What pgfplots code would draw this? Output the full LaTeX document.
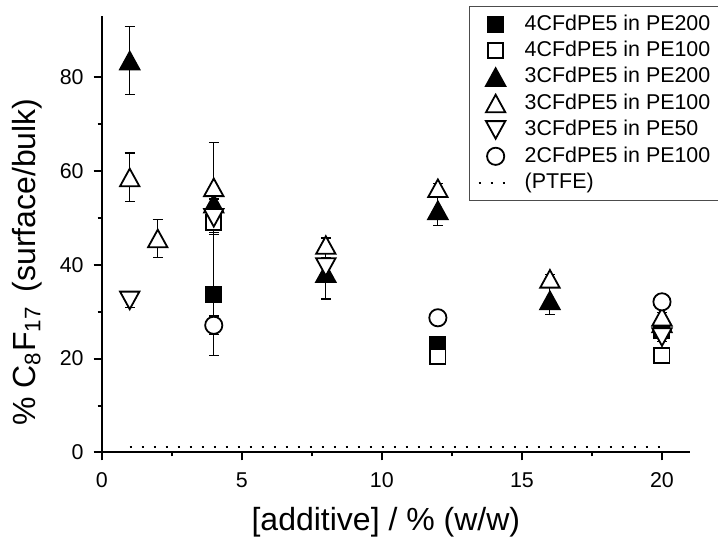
\documentclass[border=0pt]{standalone}
\usepackage{fontspec}
\setmainfont{Liberation Sans}
\usepackage{pgfplots}
\usepackage{pgfplotstable}
\pgfplotsset{compat=1.18}

% triangles centred on their bounding box (as Origin draws them)
\pgfdeclareplotmark{tu}{%
  \pgfpathmoveto{\pgfqpoint{0pt}{\pgfplotmarksize}}%
  \pgfpathlineto{\pgfqpoint{1.1\pgfplotmarksize}{-\pgfplotmarksize}}%
  \pgfpathlineto{\pgfqpoint{-1.1\pgfplotmarksize}{-\pgfplotmarksize}}%
  \pgfpathclose\pgfusepathqfillstroke}
\pgfdeclareplotmark{td}{%
  \pgfpathmoveto{\pgfqpoint{0pt}{-\pgfplotmarksize}}%
  \pgfpathlineto{\pgfqpoint{1.1\pgfplotmarksize}{\pgfplotmarksize}}%
  \pgfpathlineto{\pgfqpoint{-1.1\pgfplotmarksize}{\pgfplotmarksize}}%
  \pgfpathclose\pgfusepathqfillstroke}

% x = additive %(w/w), y = % C8F17, e = error
\pgfplotstableread{
x y e
4 33.6 12.9
12 22.9 1.0
20 25.9 1.0
}\fourTwoHundred
\pgfplotstableread{
x y e
4 49.0 2.5
12 20.4 1.0
20 20.7 1.0
}\fourHundred
\pgfplotstableread{
x y e
1 83.5 7.2
4 53.0 1.0
8 38.2 5.5
12 51.6 3.2
16 32.4 3.0
20 27.5 1.0
}\threeTwoHundred
\pgfplotstableread{
x y e
1 58.6 5.2
2 45.6 4.0
4 56.5 9.6
8 44.2 1.5
12 56.3 1.0
16 37.0 1.0
20 28.9 1.0
}\threeHundred
\pgfplotstableread{
x y e
1 32.4 1.5
4 50.0 1.0
8 39.5 2.0
20 24.6 1.0
}\threeFifty
\pgfplotstableread{
x y e
4 27.1 2.0
12 28.7 1.0
20 32.1 1.0
}\twoHundred

\pgfplotsset{
  ebar/.style={forget plot, draw=none, mark=none,
    error bars/.cd, y dir=both, y explicit,
    error bar style={draw=black, solid, line width=0.5pt},
    error mark options={draw=black, solid, rotate=90, mark size=2.5pt, line width=0.6pt}},
  pt/.style={only marks, line width=0.9pt, draw=black},
}

\begin{document}
\begin{tikzpicture}
\begin{axis}[
  scale only axis, width=294.15pt, height=218.25pt,
  xmin=0, xmax=21, ymin=0, ymax=93,
  axis x line*=bottom, axis y line*=left,
  axis line style={line width=1pt},
  xtick={0,5,10,15,20}, ytick={0,20,40,60,80},
  minor x tick num=1, minor y tick num=1,
  tick align=outside,
  major tick length=4pt, minor tick length=2pt,
  every tick/.style={black, line width=1pt},
  tick label style={font=\fontsize{10.7}{12}\selectfont},
  xticklabel style={yshift=-2.5pt},
  yticklabel style={xshift=-1.5pt},
  /pgf/number format/assume math mode=true,
  xlabel={[additive] / \% (w/w)},
  ylabel={\% C\textsubscript{8}F\textsubscript{17}\, (surface/bulk)},
  label style={font=\fontsize{16}{18}\selectfont},
  xlabel style={at={(rel axis cs:0.483,-0.159)}, anchor=center},
  ylabel style={at={(rel axis cs:-0.127,0.436)}, anchor=center},
  legend style={at={(rel axis cs:0.6243,1.0229)}, anchor=north west,
    draw=black!70, line width=0.6pt, fill=white,
    font=\fontsize{10.7}{12}\selectfont,
    inner xsep=4pt, inner ysep=4pt, row sep=3.5pt,
    nodes={inner sep=0pt, text height=7.7pt, text depth=2pt},
    /tikz/every odd column/.style={column sep=5.5pt}},
  legend cell align=left,
]
% error bars first, markers on top
\addplot[ebar] table[x=x, y=y, y error=e]{\fourTwoHundred};
\addplot[ebar] table[x=x, y=y, y error=e]{\fourHundred};
\addplot[ebar] table[x=x, y=y, y error=e]{\threeTwoHundred};
\addplot[ebar] table[x=x, y=y, y error=e]{\threeHundred};
\addplot[ebar] table[x=x, y=y, y error=e]{\threeFifty};
\addplot[ebar] table[x=x, y=y, y error=e]{\twoHundred};

\addplot[pt, mark=square*, mark size=3.8pt, mark options={fill=black}]
  table[x=x, y=y]{\fourTwoHundred};
\addlegendentry{4CFdPE5 in PE200}
\addplot[pt, mark=square*, mark size=3.8pt, mark options={fill=white}]
  table[x=x, y=y]{\fourHundred};
\addlegendentry{4CFdPE5 in PE100}
\addplot[pt, mark=tu, mark size=4.4pt, mark options={fill=black}]
  table[x=x, y=y]{\threeTwoHundred};
\addlegendentry{3CFdPE5 in PE200}
\addplot[pt, mark=tu, mark size=4.4pt, mark options={fill=white}]
  table[x=x, y=y]{\threeHundred};
\addlegendentry{3CFdPE5 in PE100}
\addplot[pt, mark=td, mark size=4.4pt, mark options={fill=white}]
  table[x=x, y=y]{\threeFifty};
\addlegendentry{3CFdPE5 in PE50}
\addplot[pt, mark=*, mark size=4.3pt, mark options={fill=white}]
  table[x=x, y=y]{\twoHundred};
\addlegendentry{2CFdPE5 in PE100}

\addplot[black, line width=1pt, dash pattern=on 1.2pt off 4.8pt]
  coordinates {(1,1.2) (20,1.2)};
\addlegendentry{(PTFE)}

\coordinate (bbsw) at (rel axis cs:-0.1729,-0.2119);
\coordinate (bbne) at (rel axis cs:1.0476,1.0367);
\end{axis}
\pgfresetboundingbox
\path[use as bounding box] (bbsw) rectangle (bbne);
\end{tikzpicture}
\end{document}
